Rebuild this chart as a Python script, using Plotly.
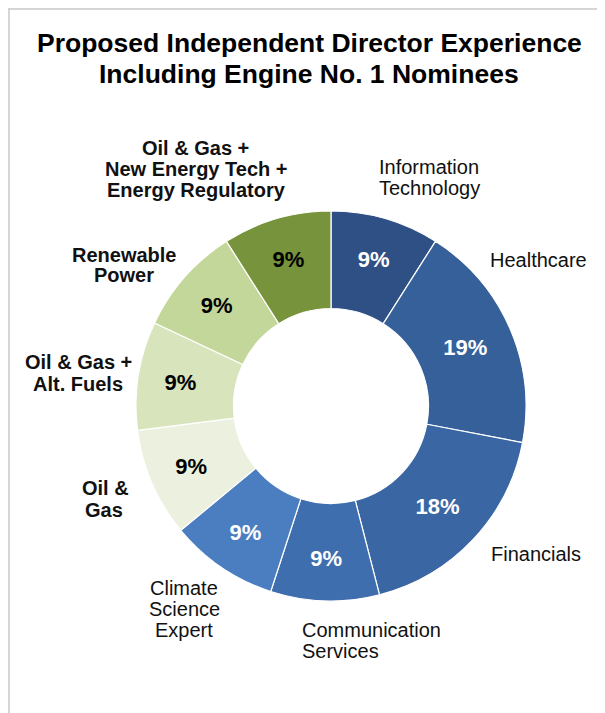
import plotly.graph_objects as go

categories = [
    "Information Technology", "Healthcare", "Financials", "Communication Services",
    "Climate Science Expert", "Oil & Gas", "Oil & Gas + Alt. Fuels",
    "Renewable Power", "Oil & Gas + New Energy Tech + Energy Regulatory",
]
values = [9, 19, 18, 9, 9, 9, 9, 9, 9]
colors = ["#2E5084", "#36609A", "#3A66A3", "#3F6EAE", "#4A7EC0",
          "#EBF1DE", "#D8E4BC", "#C4D79B", "#77933C"]
text_colors = ["white", "white", "white", "white", "white",
               "black", "black", "black", "black"]
title_lines = ["Proposed Independent Director Experience",
               "Including Engine No. 1 Nominees"]

OFF = 8
W, H = 605 - OFF, 713 - OFF
FONT = "Arial, Liberation Sans, sans-serif"

def px(x):
    return (x - OFF) / W

def py(y):
    return 1 - (y - OFF) / H

fig = go.Figure()
fig.add_trace(go.Pie(
    labels=categories,
    values=values,
    sort=False,
    direction="clockwise",
    rotation=0,
    hole=0.5,
    marker=dict(colors=colors, line=dict(color="white", width=1.2)),
    texttemplate="%{value}%",
    textposition="inside",
    insidetextorientation="horizontal",
    textfont=dict(family=FONT, size=22, color=text_colors, weight="bold"),
    showlegend=False,
    hoverinfo="label+value",
    domain=dict(x=[px(136), px(526)], y=[py(601), py(211)]),
))

annotations = []
for text, y in zip(title_lines, [43, 74]):
    annotations.append(dict(text=f"<b>{text}</b>", x=px(309), y=py(y),
                            font=dict(family=FONT, size=26.5, color="black")))

# outside labels: (text, x, y_center, bold, anchor)
label_lines = [
    ("Oil & Gas +", 195, 148, True, "center"),
    ("New Energy Tech +", 196, 169, True, "center"),
    ("Energy Regulatory", 196, 190, True, "center"),
    ("Information", 377, 167, False, "left"),
    ("Technology", 377, 188, False, "left"),
    ("Healthcare", 488, 260, False, "left"),
    ("Financials", 489, 554, False, "left"),
    ("Communication", 300, 630, False, "left"),
    ("Services", 300, 651, False, "left"),
    ("Climate", 184, 588, False, "center"),
    ("Science", 184, 609, False, "center"),
    ("Expert", 184, 630, False, "center"),
    ("Oil &", 105, 488, True, "center"),
    ("Gas", 104, 510, True, "center"),
    ("Oil & Gas +", 78, 362, True, "center"),
    ("Alt. Fuels", 78, 384, True, "center"),
    ("Renewable", 124, 255, True, "center"),
    ("Power", 124, 275, True, "center"),
]
for text, x, y, bold, anchor in label_lines:
    annotations.append(dict(
        text=f"<b>{text}</b>" if bold else text,
        x=px(x), y=py(y), xanchor=anchor, yanchor="middle",
        font=dict(family=FONT, size=20, color="#111111"),
    ))

for a in annotations:
    a.update(xref="paper", yref="paper", showarrow=False)
    a.setdefault("xanchor", "center")
    a.setdefault("yanchor", "middle")

shapes = [
    dict(type="line", xref="paper", yref="paper", x0=px(9), x1=px(9),
         y0=1, y1=0, line=dict(color="#C8C8C8", width=1.5)),
    dict(type="line", xref="paper", yref="paper", x0=px(9), x1=1,
         y0=py(9), y1=py(9), line=dict(color="#C8C8C8", width=1.5)),
]

fig.update_layout(
    width=W, height=H,
    margin=dict(l=0, r=0, t=0, b=0),
    paper_bgcolor="white",
    plot_bgcolor="white",
    annotations=annotations,
    shapes=shapes,
)

fig.write_html("out.html")
